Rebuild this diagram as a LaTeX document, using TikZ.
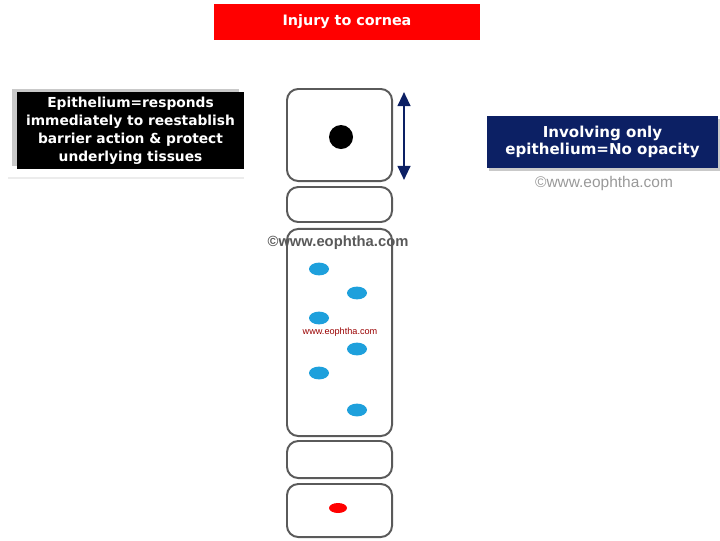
\documentclass[tikz,border=0pt]{standalone}
\usepackage{fontspec}
\setmainfont{DejaVu Sans}
\newfontfamily\markfont{Liberation Sans}
\usetikzlibrary{shadows,arrows.meta,shapes.geometric}
\definecolor{navy}{RGB}{12,32,100}
\definecolor{cellblue}{RGB}{30,160,220}
\definecolor{cellline}{RGB}{90,90,90}
\tikzset{
    banner/.style={draw=none, text=white, font=\bfseries\fontsize{9.8}{12.8}\selectfont, align=center, inner sep=0pt},
    cell/.style={draw=cellline, line width=1.4pt, rounded corners=8pt, minimum width=2.625cm, inner sep=0pt},
    nucleus/.style={ellipse, draw=none, fill=cellblue, minimum width=0.5cm, minimum height=0.32cm, inner sep=0pt},
    wmark/.style={text=gray!70!black, font=\markfont\bfseries\fontsize{10.5}{12}\selectfont}
}

\begin{document}
\begin{tikzpicture}
  [
    x                       = 0.025cm,
    y                       = -0.025cm,
  ]
  \useasboundingbox (0,0) rectangle (720,540);

  % headings
  \node [banner, fill=red, minimum width=6.65cm, minimum height=0.9cm, font=\bfseries\fontsize{10.2}{12}\selectfont] (title) at (347,22) {Injury to cornea};
  \draw [gray!15, line width=0.8pt] (8,178) -- (244,178);
  \node [banner, fill=black, minimum width=5.675cm, minimum height=1.925cm,
         drop shadow={shadow xshift=-0.12cm, shadow yshift=0.08cm, fill=gray!60, opacity=0.7}] (epi) at (130.5,130.5)
    {Epithelium=responds\\immediately to reestablish\\barrier action \& protect\\underlying tissues};
  \node [banner, fill=navy, minimum width=5.775cm, minimum height=1.3cm, font=\bfseries\fontsize{10.7}{12.2}\selectfont,
         drop shadow={shadow xshift=0.06cm, shadow yshift=-0.08cm, fill=gray!60, opacity=0.7}] (opac) at (602.5,142)
    {Involving only\\epithelium=No opacity};
  \node [wmark, text=gray!80, font=\markfont\fontsize{11}{12}\selectfont] (mark1) at (604,183) {\copyright www.eophtha.com};

  % the cells
  \node [cell, minimum height=2.3cm] (top) at (339.5,135) {};
  \node [cell, minimum height=0.875cm] (wing1) at (339.5,204.5) {};
  \node [cell, minimum height=5.175cm] (big) at (339.5,332.5) {};
  \node [cell, minimum height=0.925cm] (wing2) at (339.5,459.5) {};
  \node [cell, minimum height=1.325cm] (basal) at (339.5,510.5) {};

  \node [circle, fill=black, minimum size=0.6cm, inner sep=0pt] (dot) at (341,137) {};
  \node [nucleus] (n1) at (319,269) {};
  \node [nucleus] (n2) at (357,293) {};
  \node [nucleus] (n3) at (319,318) {};
  \node [nucleus] (n4) at (357,349) {};
  \node [nucleus] (n5) at (319,373) {};
  \node [nucleus] (n6) at (357,410) {};
  \node [nucleus, fill=red, minimum width=0.45cm, minimum height=0.25cm] (n7) at (338,508) {};

  \node [wmark] (mark2) at (338,243) {\copyright www.eophtha.com};
  \node [text=red!60!black, font=\markfont\fontsize{6.5}{7}\selectfont] (mark3) at (340,332) {www.eophtha.com};

  % depth arrow
  \coordinate (atop) at (404,92);
  \coordinate (abot) at (404,180);
  \draw [navy, line width=1.6pt, {Triangle[width=9pt,length=10pt]}-{Triangle[width=9pt,length=10pt]}] (atop) -- (abot);
\end{tikzpicture}
\end{document}
